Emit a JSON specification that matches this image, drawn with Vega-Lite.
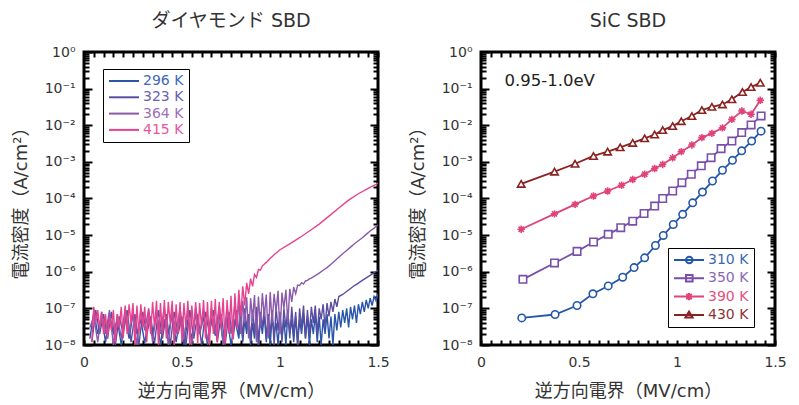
{
  "$schema": "https://vega.github.io/schema/vega-lite/v6.json",
  "background": "white",
  "padding": {"left": 10, "top": 10, "right": 5, "bottom": 2},
  "bounds": "flush",
  "spacing": 103,
  "resolve": {"scale": {"color": "independent"}, "legend": {"color": "independent"}},
  "config": {
    "view": {"stroke": "black", "strokeWidth": 3},
    "font": "DejaVu Sans, Noto Sans CJK JP",
    "axis": {"grid": false, "domain": false, "tickColor": "black", "tickWidth": 2, "labelFont": "DejaVu Sans", "labelFontSize": 14, "labelColor": "#333", "titleFont": "DejaVu Sans, Noto Sans CJK JP", "titleFontSize": 18, "titleFontWeight": "normal", "titleColor": "#333"},
    "title": {"font": "DejaVu Sans, Noto Sans CJK JP", "fontSize": 19, "fontWeight": "normal", "color": "#333", "frame": "group", "offset": 14},
    "legend": {"labelFont": "DejaVu Sans"}
  },
  "hconcat": [
    {
      "width": 294, "height": 293,
      "title": {"text": "ダイヤモンド SBD"},
      "data": {"values": [
        {"T":"296 K","E":0.03,"J":1.5e-8},{"T":"296 K","E":0.05,"J":8e-8},{"T":"296 K","E":0.07,"J":2e-8},{"T":"296 K","E":0.09,"J":6e-8},{"T":"296 K","E":0.11,"J":1.2e-8},{"T":"296 K","E":0.13,"J":7e-8},{"T":"296 K","E":0.15,"J":2e-8},{"T":"296 K","E":0.17,"J":5e-8},{"T":"296 K","E":0.19,"J":1e-8},{"T":"296 K","E":0.21,"J":6e-8},{"T":"296 K","E":0.23,"J":1.5e-8},{"T":"296 K","E":0.25,"J":7e-8},{"T":"296 K","E":0.27,"J":2e-8},{"T":"296 K","E":0.29,"J":5e-8},{"T":"296 K","E":0.31,"J":1.1e-8},{"T":"296 K","E":0.33,"J":6e-8},{"T":"296 K","E":0.35,"J":1.8e-8},{"T":"296 K","E":0.37,"J":8e-8},{"T":"296 K","E":0.39,"J":1e-8},{"T":"296 K","E":0.41,"J":5e-8},{"T":"296 K","E":0.43,"J":2e-8},{"T":"296 K","E":0.45,"J":7e-8},{"T":"296 K","E":0.47,"J":1.2e-8},{"T":"296 K","E":0.49,"J":6e-8},{"T":"296 K","E":0.51,"J":1e-8},{"T":"296 K","E":0.53,"J":5e-8},{"T":"296 K","E":0.55,"J":1.5e-8},{"T":"296 K","E":0.57,"J":7e-8},{"T":"296 K","E":0.59,"J":2e-8},{"T":"296 K","E":0.61,"J":6e-8},{"T":"296 K","E":0.63,"J":1e-8},{"T":"296 K","E":0.65,"J":5e-8},{"T":"296 K","E":0.67,"J":1.8e-8},{"T":"296 K","E":0.69,"J":7e-8},{"T":"296 K","E":0.71,"J":1.2e-8},{"T":"296 K","E":0.73,"J":6e-8},{"T":"296 K","E":0.75,"J":1e-8},{"T":"296 K","E":0.77,"J":5e-8},
        {"T":"296 K","E":0.79,"J":1.5e-8},{"T":"296 K","E":0.80,"J":6e-8},{"T":"296 K","E":0.81,"J":1.2e-8},{"T":"296 K","E":0.82,"J":5e-8},{"T":"296 K","E":0.83,"J":2e-8},{"T":"296 K","E":0.84,"J":7e-8},{"T":"296 K","E":0.85,"J":1e-8},{"T":"296 K","E":0.86,"J":4e-8},{"T":"296 K","E":0.87,"J":1.5e-8},{"T":"296 K","E":0.88,"J":6e-8},{"T":"296 K","E":0.89,"J":1e-8},{"T":"296 K","E":0.90,"J":5e-8},{"T":"296 K","E":0.91,"J":2e-8},{"T":"296 K","E":0.92,"J":7e-8},{"T":"296 K","E":0.93,"J":1.2e-8},{"T":"296 K","E":0.94,"J":5e-8},{"T":"296 K","E":0.95,"J":1e-8},{"T":"296 K","E":0.96,"J":6e-8},{"T":"296 K","E":0.97,"J":2e-8},{"T":"296 K","E":0.98,"J":4e-8},{"T":"296 K","E":0.99,"J":1e-8},{"T":"296 K","E":1.00,"J":6e-8},{"T":"296 K","E":1.01,"J":1.5e-8},{"T":"296 K","E":1.02,"J":5e-8},{"T":"296 K","E":1.03,"J":1e-8},{"T":"296 K","E":1.04,"J":7e-8},{"T":"296 K","E":1.05,"J":2e-8},{"T":"296 K","E":1.06,"J":5e-8},{"T":"296 K","E":1.07,"J":1.2e-8},{"T":"296 K","E":1.08,"J":6e-8},{"T":"296 K","E":1.09,"J":1e-8},{"T":"296 K","E":1.10,"J":5e-8},{"T":"296 K","E":1.11,"J":2e-8},{"T":"296 K","E":1.12,"J":7e-8},{"T":"296 K","E":1.13,"J":1.5e-8},{"T":"296 K","E":1.14,"J":6e-8},{"T":"296 K","E":1.15,"J":1e-8},{"T":"296 K","E":1.16,"J":5e-8},{"T":"296 K","E":1.17,"J":2e-8},{"T":"296 K","E":1.18,"J":7e-8},{"T":"296 K","E":1.19,"J":1.2e-8},{"T":"296 K","E":1.20,"J":6e-8},{"T":"296 K","E":1.21,"J":1e-8},{"T":"296 K","E":1.22,"J":5e-8},{"T":"296 K","E":1.23,"J":2e-8},{"T":"296 K","E":1.24,"J":7e-8},{"T":"296 K","E":1.25,"J":1.5e-8},{"T":"296 K","E":1.26,"J":6e-8},{"T":"296 K","E":1.27,"J":1e-8},{"T":"296 K","E":1.28,"J":7e-8},{"T":"296 K","E":1.29,"J":2.5e-8},{"T":"296 K","E":1.30,"J":8e-8},
        {"T":"296 K","E":1.31,"J":3e-8},{"T":"296 K","E":1.32,"J":9e-8},{"T":"296 K","E":1.33,"J":4e-8},{"T":"296 K","E":1.34,"J":1e-7},{"T":"296 K","E":1.35,"J":3e-8},{"T":"296 K","E":1.36,"J":1.1e-7},{"T":"296 K","E":1.37,"J":5e-8},{"T":"296 K","E":1.38,"J":1.2e-7},{"T":"296 K","E":1.39,"J":4e-8},{"T":"296 K","E":1.40,"J":1.3e-7},{"T":"296 K","E":1.41,"J":7e-8},{"T":"296 K","E":1.42,"J":1.5e-7},{"T":"296 K","E":1.43,"J":8e-8},{"T":"296 K","E":1.44,"J":1.7e-7},{"T":"296 K","E":1.45,"J":1e-7},{"T":"296 K","E":1.46,"J":1.9e-7},{"T":"296 K","E":1.47,"J":1.2e-7},{"T":"296 K","E":1.48,"J":2.1e-7},{"T":"296 K","E":1.49,"J":1.6e-7},{"T":"296 K","E":1.50,"J":2.5e-7},

        {"T":"323 K","E":0.04,"J":1.2e-8},{"T":"323 K","E":0.06,"J":9e-8},{"T":"323 K","E":0.08,"J":2e-8},{"T":"323 K","E":0.10,"J":7e-8},{"T":"323 K","E":0.12,"J":1.5e-8},{"T":"323 K","E":0.14,"J":8e-8},{"T":"323 K","E":0.16,"J":1e-8},{"T":"323 K","E":0.18,"J":6e-8},{"T":"323 K","E":0.20,"J":2e-8},{"T":"323 K","E":0.22,"J":9e-8},{"T":"323 K","E":0.24,"J":1.2e-8},{"T":"323 K","E":0.26,"J":7e-8},{"T":"323 K","E":0.28,"J":1e-8},{"T":"323 K","E":0.30,"J":8e-8},{"T":"323 K","E":0.32,"J":2e-8},{"T":"323 K","E":0.34,"J":6e-8},{"T":"323 K","E":0.36,"J":1.1e-8},{"T":"323 K","E":0.38,"J":9e-8},{"T":"323 K","E":0.40,"J":1.5e-8},{"T":"323 K","E":0.42,"J":7e-8},{"T":"323 K","E":0.44,"J":1e-8},{"T":"323 K","E":0.46,"J":8e-8},{"T":"323 K","E":0.48,"J":2e-8},{"T":"323 K","E":0.50,"J":6e-8},{"T":"323 K","E":0.52,"J":1e-8},{"T":"323 K","E":0.54,"J":9e-8},{"T":"323 K","E":0.56,"J":1.5e-8},{"T":"323 K","E":0.58,"J":7e-8},{"T":"323 K","E":0.60,"J":1e-8},{"T":"323 K","E":0.62,"J":8e-8},{"T":"323 K","E":0.64,"J":2e-8},{"T":"323 K","E":0.66,"J":9e-8},{"T":"323 K","E":0.68,"J":1.2e-8},{"T":"323 K","E":0.70,"J":7e-8},{"T":"323 K","E":0.72,"J":1e-8},{"T":"323 K","E":0.74,"J":8e-8},{"T":"323 K","E":0.76,"J":1.5e-8},{"T":"323 K","E":0.78,"J":9e-8},
        {"T":"323 K","E":0.79,"J":2e-8},{"T":"323 K","E":0.80,"J":8e-8},{"T":"323 K","E":0.81,"J":1.5e-8},{"T":"323 K","E":0.82,"J":1e-7},{"T":"323 K","E":0.83,"J":3e-8},{"T":"323 K","E":0.84,"J":7e-8},{"T":"323 K","E":0.85,"J":1.2e-8},{"T":"323 K","E":0.86,"J":9e-8},{"T":"323 K","E":0.87,"J":2e-8},{"T":"323 K","E":0.88,"J":1.1e-7},{"T":"323 K","E":0.89,"J":1e-8},{"T":"323 K","E":0.90,"J":8e-8},{"T":"323 K","E":0.91,"J":3e-8},{"T":"323 K","E":0.92,"J":1e-7},{"T":"323 K","E":0.93,"J":1.5e-8},{"T":"323 K","E":0.94,"J":7e-8},{"T":"323 K","E":0.95,"J":2e-8},{"T":"323 K","E":0.96,"J":9e-8},{"T":"323 K","E":0.97,"J":1e-8},{"T":"323 K","E":0.98,"J":1.1e-7},{"T":"323 K","E":0.99,"J":2.5e-8},{"T":"323 K","E":1.00,"J":8e-8},{"T":"323 K","E":1.01,"J":1.2e-8},{"T":"323 K","E":1.02,"J":1e-7},{"T":"323 K","E":1.03,"J":3e-8},{"T":"323 K","E":1.04,"J":9e-8},{"T":"323 K","E":1.05,"J":1.5e-8},{"T":"323 K","E":1.06,"J":1.1e-7},{"T":"323 K","E":1.07,"J":2e-8},{"T":"323 K","E":1.08,"J":8e-8},{"T":"323 K","E":1.09,"J":1e-8},{"T":"323 K","E":1.10,"J":1e-7},{"T":"323 K","E":1.11,"J":3e-8},{"T":"323 K","E":1.12,"J":1.2e-7},{"T":"323 K","E":1.13,"J":1.5e-8},{"T":"323 K","E":1.14,"J":9e-8},{"T":"323 K","E":1.15,"J":2e-8},{"T":"323 K","E":1.16,"J":1.1e-7},{"T":"323 K","E":1.17,"J":4e-8},{"T":"323 K","E":1.18,"J":1.2e-7},{"T":"323 K","E":1.19,"J":2e-8},{"T":"323 K","E":1.20,"J":1e-7},{"T":"323 K","E":1.21,"J":5e-8},{"T":"323 K","E":1.22,"J":1.3e-7},{"T":"323 K","E":1.23,"J":3e-8},{"T":"323 K","E":1.24,"J":1.4e-7},{"T":"323 K","E":1.25,"J":6e-8},{"T":"323 K","E":1.26,"J":1.5e-7},{"T":"323 K","E":1.27,"J":8e-8},{"T":"323 K","E":1.28,"J":1.8e-7},{"T":"323 K","E":1.29,"J":1.1e-7},{"T":"323 K","E":1.30,"J":2.1e-7},{"T":"323 K","E":1.32,"J":2.4e-7},{"T":"323 K","E":1.34,"J":2.9e-7},{"T":"323 K","E":1.36,"J":3.5e-7},{"T":"323 K","E":1.38,"J":4.2e-7},{"T":"323 K","E":1.40,"J":4.9e-7},{"T":"323 K","E":1.42,"J":5.8e-7},{"T":"323 K","E":1.44,"J":6.8e-7},{"T":"323 K","E":1.46,"J":8e-7},{"T":"323 K","E":1.48,"J":9.4e-7},{"T":"323 K","E":1.50,"J":1.1e-6},

        {"T":"364 K","E":0.03,"J":3e-8},{"T":"364 K","E":0.05,"J":6e-8},{"T":"364 K","E":0.07,"J":1.2e-8},{"T":"364 K","E":0.09,"J":8e-8},{"T":"364 K","E":0.11,"J":2e-8},{"T":"364 K","E":0.13,"J":9e-8},{"T":"364 K","E":0.15,"J":1e-8},{"T":"364 K","E":0.17,"J":7e-8},{"T":"364 K","E":0.19,"J":1.5e-8},{"T":"364 K","E":0.21,"J":1e-7},{"T":"364 K","E":0.23,"J":2e-8},{"T":"364 K","E":0.25,"J":8e-8},{"T":"364 K","E":0.27,"J":1e-8},{"T":"364 K","E":0.29,"J":9e-8},{"T":"364 K","E":0.31,"J":2.5e-8},{"T":"364 K","E":0.33,"J":1e-7},{"T":"364 K","E":0.35,"J":1.2e-8},{"T":"364 K","E":0.37,"J":8e-8},{"T":"364 K","E":0.39,"J":2e-8},{"T":"364 K","E":0.41,"J":1.1e-7},{"T":"364 K","E":0.43,"J":1e-8},{"T":"364 K","E":0.45,"J":9e-8},{"T":"364 K","E":0.47,"J":2e-8},{"T":"364 K","E":0.49,"J":1e-7},{"T":"364 K","E":0.51,"J":1.5e-8},{"T":"364 K","E":0.53,"J":8e-8},{"T":"364 K","E":0.55,"J":1e-8},{"T":"364 K","E":0.57,"J":1.1e-7},{"T":"364 K","E":0.59,"J":2e-8},{"T":"364 K","E":0.61,"J":9e-8},{"T":"364 K","E":0.63,"J":1.2e-8},{"T":"364 K","E":0.65,"J":1e-7},{"T":"364 K","E":0.67,"J":2e-8},{"T":"364 K","E":0.69,"J":1.2e-7},{"T":"364 K","E":0.71,"J":1e-8},{"T":"364 K","E":0.73,"J":1.1e-7},{"T":"364 K","E":0.75,"J":2e-8},{"T":"364 K","E":0.77,"J":1.3e-7},
        {"T":"364 K","E":0.78,"J":3e-8},{"T":"364 K","E":0.79,"J":1.8e-7},{"T":"364 K","E":0.80,"J":2e-8},{"T":"364 K","E":0.81,"J":1.6e-7},{"T":"364 K","E":0.82,"J":4e-8},{"T":"364 K","E":0.83,"J":2e-7},{"T":"364 K","E":0.84,"J":1.5e-8},{"T":"364 K","E":0.85,"J":1.9e-7},{"T":"364 K","E":0.86,"J":5e-8},{"T":"364 K","E":0.87,"J":2.3e-7},{"T":"364 K","E":0.88,"J":1.2e-8},{"T":"364 K","E":0.89,"J":2.1e-7},{"T":"364 K","E":0.90,"J":3e-8},{"T":"364 K","E":0.91,"J":2.6e-7},{"T":"364 K","E":0.92,"J":6e-8},{"T":"364 K","E":0.93,"J":2.4e-7},{"T":"364 K","E":0.94,"J":1.5e-8},{"T":"364 K","E":0.95,"J":2.8e-7},{"T":"364 K","E":0.96,"J":4e-8},{"T":"364 K","E":0.97,"J":2.5e-7},{"T":"364 K","E":0.98,"J":8e-8},{"T":"364 K","E":0.99,"J":3e-7},{"T":"364 K","E":1.00,"J":2e-8},{"T":"364 K","E":1.01,"J":2.7e-7},{"T":"364 K","E":1.02,"J":1e-7},{"T":"364 K","E":1.03,"J":3.2e-7},{"T":"364 K","E":1.04,"J":4e-8},{"T":"364 K","E":1.05,"J":3.4e-7},{"T":"364 K","E":1.06,"J":1.5e-7},{"T":"364 K","E":1.07,"J":3.8e-7},{"T":"364 K","E":1.08,"J":2.5e-7},{"T":"364 K","E":1.09,"J":4.3e-7},{"T":"364 K","E":1.10,"J":4.2e-7},{"T":"364 K","E":1.11,"J":5e-7},{"T":"364 K","E":1.12,"J":4.6e-7},{"T":"364 K","E":1.13,"J":5.6e-7},{"T":"364 K","E":1.14,"J":5.8e-7},{"T":"364 K","E":1.15,"J":6.4e-7},{"T":"364 K","E":1.16,"J":6.7e-7},{"T":"364 K","E":1.18,"J":7.8e-7},{"T":"364 K","E":1.20,"J":9.2e-7},{"T":"364 K","E":1.22,"J":1.1e-6},{"T":"364 K","E":1.24,"J":1.3e-6},{"T":"364 K","E":1.26,"J":1.6e-6},{"T":"364 K","E":1.28,"J":2e-6},{"T":"364 K","E":1.30,"J":2.5e-6},{"T":"364 K","E":1.32,"J":3.1e-6},{"T":"364 K","E":1.34,"J":3.8e-6},{"T":"364 K","E":1.36,"J":4.7e-6},{"T":"364 K","E":1.38,"J":5.8e-6},{"T":"364 K","E":1.40,"J":7e-6},{"T":"364 K","E":1.42,"J":8.5e-6},{"T":"364 K","E":1.44,"J":1.05e-5},{"T":"364 K","E":1.46,"J":1.3e-5},{"T":"364 K","E":1.48,"J":1.55e-5},{"T":"364 K","E":1.50,"J":1.9e-5},

        {"T":"415 K","E":0.04,"J":1.2e-8},{"T":"415 K","E":0.05,"J":1.1e-7},{"T":"415 K","E":0.06,"J":4e-8},{"T":"415 K","E":0.07,"J":9e-8},{"T":"415 K","E":0.08,"J":3e-8},{"T":"415 K","E":0.09,"J":8e-8},{"T":"415 K","E":0.10,"J":2e-8},{"T":"415 K","E":0.11,"J":7e-8},{"T":"415 K","E":0.12,"J":1.5e-8},{"T":"415 K","E":0.13,"J":6e-8},{"T":"415 K","E":0.14,"J":2.5e-8},{"T":"415 K","E":0.15,"J":9e-8},{"T":"415 K","E":0.16,"J":1.2e-8},{"T":"415 K","E":0.17,"J":7e-8},{"T":"415 K","E":0.18,"J":3e-8},{"T":"415 K","E":0.19,"J":1.1e-7},{"T":"415 K","E":0.20,"J":1.5e-8},{"T":"415 K","E":0.21,"J":1.2e-7},{"T":"415 K","E":0.22,"J":2e-8},{"T":"415 K","E":0.23,"J":1.3e-7},{"T":"415 K","E":0.24,"J":4e-8},{"T":"415 K","E":0.25,"J":1.4e-7},{"T":"415 K","E":0.26,"J":1e-8},{"T":"415 K","E":0.27,"J":1.2e-7},{"T":"415 K","E":0.28,"J":2e-8},{"T":"415 K","E":0.29,"J":1.3e-7},{"T":"415 K","E":0.30,"J":3e-8},{"T":"415 K","E":0.31,"J":1.1e-7},{"T":"415 K","E":0.32,"J":1.2e-8},{"T":"415 K","E":0.33,"J":9e-8},{"T":"415 K","E":0.34,"J":2e-8},{"T":"415 K","E":0.35,"J":1.5e-7},{"T":"415 K","E":0.36,"J":3e-8},{"T":"415 K","E":0.37,"J":1.6e-7},{"T":"415 K","E":0.38,"J":1e-8},{"T":"415 K","E":0.39,"J":1.4e-7},{"T":"415 K","E":0.40,"J":2e-8},{"T":"415 K","E":0.41,"J":1.7e-7},{"T":"415 K","E":0.42,"J":1.5e-8},{"T":"415 K","E":0.43,"J":1.5e-7},{"T":"415 K","E":0.44,"J":4e-8},{"T":"415 K","E":0.45,"J":1.6e-7},{"T":"415 K","E":0.46,"J":1e-8},{"T":"415 K","E":0.47,"J":1.3e-7},{"T":"415 K","E":0.48,"J":2e-8},{"T":"415 K","E":0.49,"J":1.5e-7},{"T":"415 K","E":0.50,"J":1.2e-8},{"T":"415 K","E":0.51,"J":1.4e-7},{"T":"415 K","E":0.52,"J":3e-8},{"T":"415 K","E":0.53,"J":1.6e-7},{"T":"415 K","E":0.54,"J":1e-8},{"T":"415 K","E":0.55,"J":1.2e-7},{"T":"415 K","E":0.56,"J":2.5e-8},{"T":"415 K","E":0.57,"J":1.5e-7},{"T":"415 K","E":0.58,"J":1.1e-8},{"T":"415 K","E":0.59,"J":1.4e-7},{"T":"415 K","E":0.60,"J":3e-8},{"T":"415 K","E":0.61,"J":1.7e-7},{"T":"415 K","E":0.62,"J":1.5e-8},{"T":"415 K","E":0.63,"J":1.5e-7},{"T":"415 K","E":0.64,"J":1e-8},{"T":"415 K","E":0.65,"J":1.6e-7},{"T":"415 K","E":0.66,"J":2e-8},{"T":"415 K","E":0.67,"J":1.8e-7},{"T":"415 K","E":0.68,"J":1.2e-8},{"T":"415 K","E":0.69,"J":1.5e-7},{"T":"415 K","E":0.70,"J":3e-8},{"T":"415 K","E":0.71,"J":1.9e-7},{"T":"415 K","E":0.72,"J":1.1e-8},{"T":"415 K","E":0.73,"J":1.7e-7},{"T":"415 K","E":0.74,"J":2e-8},{"T":"415 K","E":0.75,"J":2.2e-7},{"T":"415 K","E":0.76,"J":1.4e-8},{"T":"415 K","E":0.77,"J":2.6e-7},{"T":"415 K","E":0.78,"J":3e-8},{"T":"415 K","E":0.79,"J":3.2e-7},{"T":"415 K","E":0.80,"J":6e-8},{"T":"415 K","E":0.81,"J":4e-7},{"T":"415 K","E":0.82,"J":1.2e-7},{"T":"415 K","E":0.83,"J":5e-7},{"T":"415 K","E":0.84,"J":2.5e-7},{"T":"415 K","E":0.85,"J":6.5e-7},{"T":"415 K","E":0.86,"J":4e-7},{"T":"415 K","E":0.87,"J":8.5e-7},{"T":"415 K","E":0.88,"J":7e-7},{"T":"415 K","E":0.89,"J":1.15e-6},{"T":"415 K","E":0.90,"J":1.1e-6},{"T":"415 K","E":0.91,"J":1.45e-6},{"T":"415 K","E":0.93,"J":1.8e-6},{"T":"415 K","E":0.95,"J":2.3e-6},{"T":"415 K","E":0.97,"J":2.9e-6},{"T":"415 K","E":1.00,"J":4e-6},{"T":"415 K","E":1.05,"J":5.8e-6},{"T":"415 K","E":1.10,"J":8.5e-6},{"T":"415 K","E":1.15,"J":1.3e-5},{"T":"415 K","E":1.20,"J":2e-5},{"T":"415 K","E":1.25,"J":3.3e-5},{"T":"415 K","E":1.30,"J":5.5e-5},{"T":"415 K","E":1.35,"J":9e-5},{"T":"415 K","E":1.40,"J":1.35e-4},{"T":"415 K","E":1.45,"J":1.9e-4},{"T":"415 K","E":1.50,"J":2.6e-4}
      ]},
      "layer": [
        {
          "mark": {"type": "line", "strokeWidth": 1.4, "clip": true},
          "encoding": {
            "x": {"field": "E", "type": "quantitative", "scale": {"domain": [0, 1.5], "nice": false, "zero": false},
                  "axis": {"orient": "bottom", "values": [0, 0.5, 1, 1.5], "format": "~g", "ticks": false, "labelFlush": false, "labelPadding": 10, "title": "逆方向電界（MV/cm）", "titlePadding": 13}},
            "y": {"field": "J", "type": "quantitative", "scale": {"type": "log", "domain": [1e-8, 1], "nice": false},
                  "axis": {"orient": "left", "values": [1, 0.1, 0.01, 0.001, 0.0001, 1e-5, 1e-6, 1e-7, 1e-8], "ticks": false, "labelPadding": 9, "labelExpr": "'10' + ['⁰','⁻¹','⁻²','⁻³','⁻⁴','⁻⁵','⁻⁶','⁻⁷','⁻⁸'][round(-log(datum.value)/LN10)]", "title": "電流密度（A/cm²）", "titlePadding": 14}},
            "color": {"field": "T", "type": "nominal",
                      "scale": {"domain": ["296 K", "323 K", "364 K", "415 K"], "range": ["#2a55a8", "#5b4ea0", "#8b5aaa", "#e8428f"]},
                      "legend": {"orient": "none", "legendX": 19, "legendY": 17, "title": null, "strokeColor": "black", "fillColor": "white", "padding": 5, "symbolType": "M-1,0H4", "symbolSize": 144, "symbolStrokeWidth": 2, "labelFontSize": 14, "labelOffset": 21, "rowPadding": 2.3,
                                 "encode": {"labels": {"update": {"fill": {"signal": "datum.value === '296 K' ? '#3d6ab8' : datum.value === '323 K' ? '#6a60b0' : datum.value === '364 K' ? '#9a70bb' : '#ea559b'"}}}}}}
          }
        },
        {
          "mark": {"type": "point", "opacity": 0},
          "encoding": {
            "x": {"field": "E", "type": "quantitative", "axis": {"orient": "bottom", "values": [0,0.05,0.1,0.15,0.2,0.25,0.3,0.35,0.4,0.45,0.5,0.55,0.6,0.65,0.7,0.75,0.8,0.85,0.9,0.95,1,1.05,1.1,1.15,1.2,1.25,1.3,1.35,1.4,1.45,1.5], "labels": false, "tickSize": -5, "title": null}},
            "y": {"field": "J", "type": "quantitative", "axis": {"orient": "left", "values": [1, 0.1, 0.01, 0.001, 0.0001, 1e-5, 1e-6, 1e-7, 1e-8], "labels": false, "tickSize": -8, "title": null}}
          }
        },
        {
          "mark": {"type": "point", "opacity": 0},
          "encoding": {
            "x": {"field": "E", "type": "quantitative", "axis": {"orient": "top", "values": [0,0.05,0.1,0.15,0.2,0.25,0.3,0.35,0.4,0.45,0.5,0.55,0.6,0.65,0.7,0.75,0.8,0.85,0.9,0.95,1,1.05,1.1,1.15,1.2,1.25,1.3,1.35,1.4,1.45,1.5], "labels": false, "tickSize": -5, "title": null}},
            "y": {"field": "J", "type": "quantitative", "axis": {"orient": "left", "values": [2e-8,3e-8,4e-8,5e-8,6e-8,7e-8,8e-8,9e-8,2e-7,3e-7,4e-7,5e-7,6e-7,7e-7,8e-7,9e-7,2e-6,3e-6,4e-6,5e-6,6e-6,7e-6,8e-6,9e-6,2e-5,3e-5,4e-5,5e-5,6e-5,7e-5,8e-5,9e-5,2e-4,3e-4,4e-4,5e-4,6e-4,7e-4,8e-4,9e-4,0.002,0.003,0.004,0.005,0.006,0.007,0.008,0.009,0.02,0.03,0.04,0.05,0.06,0.07,0.08,0.09,0.2,0.3,0.4,0.5,0.6,0.7,0.8,0.9], "labels": false, "tickSize": -5, "title": null}}
          }
        },
        {
          "mark": {"type": "point", "opacity": 0},
          "encoding": {
            "x": {"field": "E", "type": "quantitative", "axis": null},
            "y": {"field": "J", "type": "quantitative", "axis": {"orient": "right", "values": [1, 0.1, 0.01, 0.001, 0.0001, 1e-5, 1e-6, 1e-7, 1e-8], "labels": false, "tickSize": -8, "title": null}}
          }
        },
        {
          "mark": {"type": "point", "opacity": 0},
          "encoding": {
            "x": {"field": "E", "type": "quantitative", "axis": null},
            "y": {"field": "J", "type": "quantitative", "axis": {"orient": "right", "values": [2e-8,3e-8,4e-8,5e-8,6e-8,7e-8,8e-8,9e-8,2e-7,3e-7,4e-7,5e-7,6e-7,7e-7,8e-7,9e-7,2e-6,3e-6,4e-6,5e-6,6e-6,7e-6,8e-6,9e-6,2e-5,3e-5,4e-5,5e-5,6e-5,7e-5,8e-5,9e-5,2e-4,3e-4,4e-4,5e-4,6e-4,7e-4,8e-4,9e-4,0.002,0.003,0.004,0.005,0.006,0.007,0.008,0.009,0.02,0.03,0.04,0.05,0.06,0.07,0.08,0.09,0.2,0.3,0.4,0.5,0.6,0.7,0.8,0.9], "labels": false, "tickSize": -5, "title": null}}
          }
        }
      ],
      "resolve": {"axis": {"x": "independent", "y": "independent"}}
    },
    {
      "width": 294, "height": 293,
      "title": {"text": "SiC SBD"},
      "data": {"values": [
        {"T":"310 K","E":0.208,"J":5.5e-8},{"T":"310 K","E":0.378,"J":6.8e-8},{"T":"310 K","E":0.49,"J":1.2e-7},{"T":"310 K","E":0.571,"J":2.5e-7},{"T":"310 K","E":0.649,"J":4.1e-7},{"T":"310 K","E":0.723,"J":7.1e-7},{"T":"310 K","E":0.781,"J":1.3e-6},{"T":"310 K","E":0.835,"J":2.4e-6},{"T":"310 K","E":0.89,"J":5.2e-6},{"T":"310 K","E":0.93,"J":9.8e-6},{"T":"310 K","E":0.981,"J":1.95e-5},{"T":"310 K","E":1.029,"J":3.7e-5},{"T":"310 K","E":1.08,"J":7.6e-5},{"T":"310 K","E":1.13,"J":1.5e-4},{"T":"310 K","E":1.181,"J":3.0e-4},{"T":"310 K","E":1.232,"J":5.9e-4},{"T":"310 K","E":1.283,"J":1.1e-3},{"T":"310 K","E":1.33,"J":2.0e-3},{"T":"310 K","E":1.381,"J":3.7e-3},{"T":"310 K","E":1.429,"J":6.9e-3},
        {"T":"350 K","E":0.214,"J":6.2e-7},{"T":"350 K","E":0.375,"J":1.74e-6},{"T":"350 K","E":0.49,"J":3.6e-6},{"T":"350 K","E":0.574,"J":6.5e-6},{"T":"350 K","E":0.649,"J":1.05e-5},{"T":"350 K","E":0.713,"J":1.6e-5},{"T":"350 K","E":0.774,"J":2.4e-5},{"T":"350 K","E":0.832,"J":3.9e-5},{"T":"350 K","E":0.886,"J":6.2e-5},{"T":"350 K","E":0.927,"J":1.0e-4},{"T":"350 K","E":0.978,"J":1.6e-4},{"T":"350 K","E":1.025,"J":2.7e-4},{"T":"350 K","E":1.073,"J":4.6e-4},{"T":"350 K","E":1.124,"J":7.8e-4},{"T":"350 K","E":1.174,"J":1.3e-3},{"T":"350 K","E":1.225,"J":2.3e-3},{"T":"350 K","E":1.28,"J":3.7e-3},{"T":"350 K","E":1.33,"J":6.3e-3},{"T":"350 K","E":1.378,"J":1.02e-2},{"T":"350 K","E":1.429,"J":1.8e-2},
        {"T":"390 K","E":0.205,"J":1.45e-5},{"T":"390 K","E":0.375,"J":3.8e-5},{"T":"390 K","E":0.48,"J":6.9e-5},{"T":"390 K","E":0.574,"J":1.17e-4},{"T":"390 K","E":0.646,"J":1.6e-4},{"T":"390 K","E":0.717,"J":2.3e-4},{"T":"390 K","E":0.774,"J":3.3e-4},{"T":"390 K","E":0.835,"J":4.6e-4},{"T":"390 K","E":0.886,"J":6.6e-4},{"T":"390 K","E":0.927,"J":8.5e-4},{"T":"390 K","E":0.978,"J":1.29e-3},{"T":"390 K","E":1.022,"J":1.9e-3},{"T":"390 K","E":1.076,"J":2.9e-3},{"T":"390 K","E":1.127,"J":4.6e-3},{"T":"390 K","E":1.178,"J":6.0e-3},{"T":"390 K","E":1.232,"J":8.5e-3},{"T":"390 K","E":1.28,"J":1.45e-2},{"T":"390 K","E":1.331,"J":2.45e-2},{"T":"390 K","E":1.378,"J":2.0e-2},{"T":"390 K","E":1.425,"J":4.8e-2},
        {"T":"430 K","E":0.205,"J":2.5e-4},{"T":"430 K","E":0.375,"J":5.4e-4},{"T":"430 K","E":0.48,"J":8.9e-4},{"T":"430 K","E":0.574,"J":1.45e-3},{"T":"430 K","E":0.646,"J":1.9e-3},{"T":"430 K","E":0.71,"J":2.5e-3},{"T":"430 K","E":0.774,"J":3.3e-3},{"T":"430 K","E":0.835,"J":4.4e-3},{"T":"430 K","E":0.886,"J":5.6e-3},{"T":"430 K","E":0.927,"J":7.4e-3},{"T":"430 K","E":0.978,"J":9.5e-3},{"T":"430 K","E":1.022,"J":1.29e-2},{"T":"430 K","E":1.076,"J":1.78e-2},{"T":"430 K","E":1.127,"J":2.6e-2},{"T":"430 K","E":1.178,"J":3.2e-2},{"T":"430 K","E":1.232,"J":3.7e-2},{"T":"430 K","E":1.28,"J":5.1e-2},{"T":"430 K","E":1.334,"J":8.1e-2},{"T":"430 K","E":1.378,"J":0.11},{"T":"430 K","E":1.425,"J":0.145}
      ]},
      "layer": [
        {
          "mark": {"type": "line", "strokeWidth": 1.8, "clip": true},
          "encoding": {
            "x": {"field": "E", "type": "quantitative", "scale": {"domain": [0, 1.5], "nice": false, "zero": false},
                  "axis": {"orient": "bottom", "values": [0, 0.5, 1, 1.5], "format": "~g", "ticks": false, "labelFlush": false, "labelPadding": 10, "title": "逆方向電界（MV/cm）", "titlePadding": 13}},
            "y": {"field": "J", "type": "quantitative", "scale": {"type": "log", "domain": [1e-8, 1], "nice": false},
                  "axis": {"orient": "left", "values": [1, 0.1, 0.01, 0.001, 0.0001, 1e-5, 1e-6, 1e-7, 1e-8], "ticks": false, "labelPadding": 9, "labelExpr": "'10' + ['⁰','⁻¹','⁻²','⁻³','⁻⁴','⁻⁵','⁻⁶','⁻⁷','⁻⁸'][round(-log(datum.value)/LN10)]", "title": "電流密度（A/cm²）", "titlePadding": 14}},
            "color": {"field": "T", "type": "nominal",
                      "scale": {"domain": ["310 K", "350 K", "390 K", "430 K"], "range": ["#2457a8", "#7a4fab", "#e0437a", "#8a2222"]},
                      "legend": {"orient": "none", "legendX": 187, "legendY": 196, "title": null, "strokeColor": "black", "fillColor": "white", "padding": 5, "symbolType": "M-1,0H4", "symbolSize": 144, "symbolStrokeWidth": 2, "labelFontSize": 14, "labelOffset": 21, "rowPadding": 2.3,
                                 "encode": {
                                   "symbols": {"update": {"shape": {"signal": "datum.value === '310 K' ? 'M-1,0H4M1,0A0.55,0.55 0 1,0 2.1,0A0.55,0.55 0 1,0 1,0' : datum.value === '350 K' ? 'M-1,0H4M1,-0.55H2.1V0.55H1Z' : datum.value === '390 K' ? 'M-1,0H4M1.5,-0.6V0.6M1.05,-0.45L1.95,0.45M1.05,0.45L1.95,-0.45' : 'M-1,0H4M1.5,-0.55L2.1,0.45H0.9Z'"}}},
                                   "labels": {"update": {"fill": {"signal": "datum.value === '310 K' ? '#3a68b6' : datum.value === '350 K' ? '#8a66b8' : datum.value === '390 K' ? '#e2517f' : '#8e3535'"}}}}}}
          }
        },
        {
          "mark": {"type": "point", "filled": false, "fill": "white", "strokeWidth": 1.6, "size": 55, "opacity": 1},
          "encoding": {
            "x": {"field": "E", "type": "quantitative", "axis": null},
            "y": {"field": "J", "type": "quantitative", "axis": null},
            "color": {"field": "T", "type": "nominal", "legend": null},
            "shape": {"field": "T", "type": "nominal", "legend": null,
                      "scale": {"domain": ["310 K", "350 K", "390 K", "430 K"], "range": ["circle", "square", "M-1,0H1M0,-1V1M-0.7,-0.7L0.7,0.7M-0.7,0.7L0.7,-0.7", "triangle-up"]}}
          }
        },
        {
          "data": {"values": [{"note": "0.95-1.0eV"}]},
          "mark": {"type": "text", "align": "left", "baseline": "middle", "fontSize": 16.5, "color": "#222", "font": "DejaVu Sans"},
          "encoding": {
            "text": {"field": "note"},
            "x": {"datum": 0.12, "type": "quantitative", "axis": null},
            "y": {"datum": 0.16, "type": "quantitative", "axis": null}
          }
        },
        {
          "mark": {"type": "point", "opacity": 0},
          "encoding": {
            "x": {"field": "E", "type": "quantitative", "axis": {"orient": "bottom", "values": [0,0.05,0.1,0.15,0.2,0.25,0.3,0.35,0.4,0.45,0.5,0.55,0.6,0.65,0.7,0.75,0.8,0.85,0.9,0.95,1,1.05,1.1,1.15,1.2,1.25,1.3,1.35,1.4,1.45,1.5], "labels": false, "tickSize": -5, "title": null}},
            "y": {"field": "J", "type": "quantitative", "axis": {"orient": "left", "values": [1, 0.1, 0.01, 0.001, 0.0001, 1e-5, 1e-6, 1e-7, 1e-8], "labels": false, "tickSize": -8, "title": null}}
          }
        },
        {
          "mark": {"type": "point", "opacity": 0},
          "encoding": {
            "x": {"field": "E", "type": "quantitative", "axis": {"orient": "top", "values": [0,0.05,0.1,0.15,0.2,0.25,0.3,0.35,0.4,0.45,0.5,0.55,0.6,0.65,0.7,0.75,0.8,0.85,0.9,0.95,1,1.05,1.1,1.15,1.2,1.25,1.3,1.35,1.4,1.45,1.5], "labels": false, "tickSize": -5, "title": null}},
            "y": {"field": "J", "type": "quantitative", "axis": {"orient": "left", "values": [2e-8,3e-8,4e-8,5e-8,6e-8,7e-8,8e-8,9e-8,2e-7,3e-7,4e-7,5e-7,6e-7,7e-7,8e-7,9e-7,2e-6,3e-6,4e-6,5e-6,6e-6,7e-6,8e-6,9e-6,2e-5,3e-5,4e-5,5e-5,6e-5,7e-5,8e-5,9e-5,2e-4,3e-4,4e-4,5e-4,6e-4,7e-4,8e-4,9e-4,0.002,0.003,0.004,0.005,0.006,0.007,0.008,0.009,0.02,0.03,0.04,0.05,0.06,0.07,0.08,0.09,0.2,0.3,0.4,0.5,0.6,0.7,0.8,0.9], "labels": false, "tickSize": -5, "title": null}}
          }
        },
        {
          "mark": {"type": "point", "opacity": 0},
          "encoding": {
            "x": {"field": "E", "type": "quantitative", "axis": null},
            "y": {"field": "J", "type": "quantitative", "axis": {"orient": "right", "values": [1, 0.1, 0.01, 0.001, 0.0001, 1e-5, 1e-6, 1e-7, 1e-8], "labels": false, "tickSize": -8, "title": null}}
          }
        },
        {
          "mark": {"type": "point", "opacity": 0},
          "encoding": {
            "x": {"field": "E", "type": "quantitative", "axis": null},
            "y": {"field": "J", "type": "quantitative", "axis": {"orient": "right", "values": [2e-8,3e-8,4e-8,5e-8,6e-8,7e-8,8e-8,9e-8,2e-7,3e-7,4e-7,5e-7,6e-7,7e-7,8e-7,9e-7,2e-6,3e-6,4e-6,5e-6,6e-6,7e-6,8e-6,9e-6,2e-5,3e-5,4e-5,5e-5,6e-5,7e-5,8e-5,9e-5,2e-4,3e-4,4e-4,5e-4,6e-4,7e-4,8e-4,9e-4,0.002,0.003,0.004,0.005,0.006,0.007,0.008,0.009,0.02,0.03,0.04,0.05,0.06,0.07,0.08,0.09,0.2,0.3,0.4,0.5,0.6,0.7,0.8,0.9], "labels": false, "tickSize": -5, "title": null}}
          }
        }
      ],
      "resolve": {"axis": {"x": "independent", "y": "independent"}}
    }
  ]
}
